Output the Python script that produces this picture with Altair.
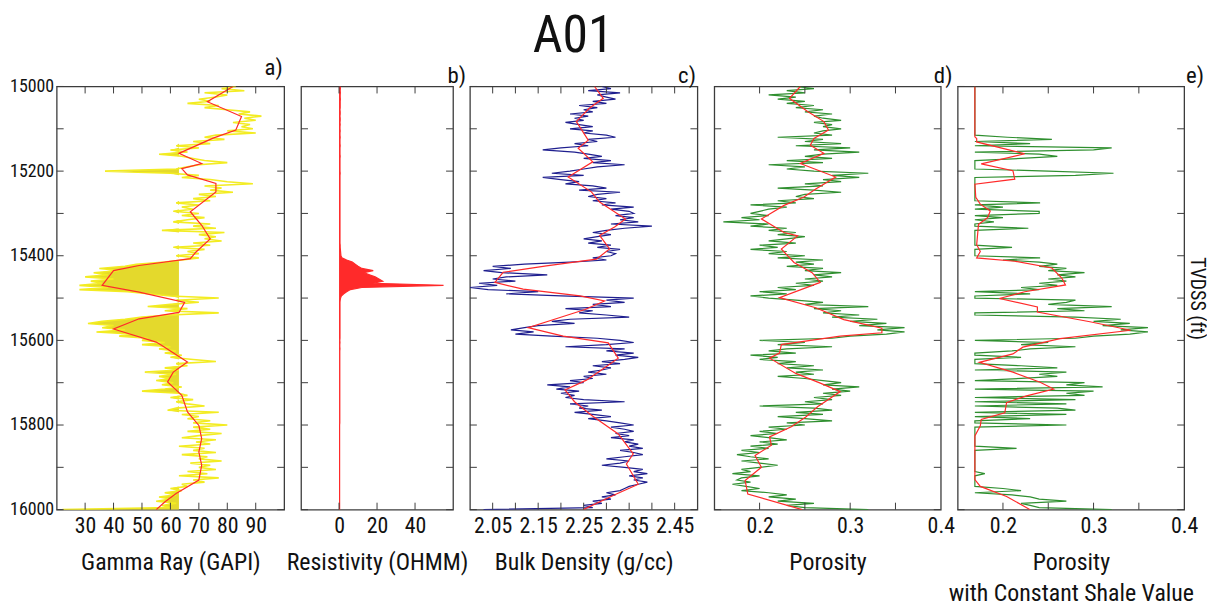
import altair as alt
import pandas as pd

# ---------------- data ----------------
DEPTH = list(range(15000, 16001, 5))
DEPTH_TICKS = list(range(15000, 16001, 100))
DEPTH_LABELS = list(range(15000, 16001, 200))

GR_RAW = [
    83, 78, 86, 72, 80, 76, 70, 74, 66, 77, 72, 80, 88, 84, 92, 86, 90, 82, 88, 85,
    89, 80, 90, 76, 72, 79, 68, 74, 62, 70, 60, 66, 56, 64, 68, 72, 80, 70, 66, 62,
    37, 60, 70, 64, 74, 80, 89, 72, 78, 74, 82, 70, 76, 68, 74, 62, 70, 64, 68, 61,
    70, 64, 72, 66, 61, 74, 68, 76, 57, 79, 70, 76, 72, 78, 68, 74, 61, 72, 66, 70,
    62, 70, 64, 58, 48, 44, 35, 42, 33, 38, 30, 40, 32, 36, 28, 38, 28, 45, 52, 60,
    77, 62, 70, 60, 52, 66, 58, 77, 60, 50, 44, 36, 31, 40, 36, 44, 34, 46, 42, 52,
    50, 58, 50, 60, 56, 62, 58, 64, 60, 68, 76, 62, 66, 58, 63, 51, 62, 56, 60, 55,
    61, 57, 64, 58, 50, 63, 66, 60, 68, 62, 66, 72, 62, 59, 77, 64, 70, 66, 74, 68,
    80, 68, 74, 66, 78, 70, 64, 76, 69, 74, 63, 72, 68, 76, 64, 73, 70, 78, 67, 74,
    70, 76, 66, 73, 63, 77, 68, 72, 64, 66, 60, 64, 58, 62, 56, 60, 55, 62, 57, 60, 22,
]
GR_SM_D = [15000, 15036, 15071, 15103, 15122, 15158, 15182, 15194, 15209, 15229,
           15249, 15296, 15328, 15360, 15391, 15407, 15423, 15435, 15470, 15486,
           15510, 15534, 15549, 15573, 15604, 15612, 15651, 15675, 15698, 15730,
           15769, 15801, 15832, 15864, 15895, 15930, 15962, 15982, 16000]
GR_SM = [82, 73, 85, 83, 75, 63, 71, 64, 66, 76,
         76, 67, 71, 74, 69, 67, 49, 40, 36, 49,
         65, 63, 49, 40, 55, 57, 66, 61, 59, 64,
         66, 70, 71, 70, 71, 70, 62, 58, 55]
GR_CUTOFF = 63

RES_RAW = [
    0.7, 0.7, 0.6, 0.7, 0.6, 0.6, 0.7, 0.6, 0.6, 0.6, 0.6, 0.5, 0.6, 0.6, 0.5, 0.6, 0.6, 0.5, 0.6, 0.5,
    0.5, 0.6, 0.5, 0.5, 0.6, 0.5, 0.5, 0.5, 0.6, 0.5, 0.5, 0.5, 0.5, 0.6, 0.5, 0.5, 0.5, 0.5, 0.5, 0.5,
    0.5, 0.6, 0.5, 0.5, 0.5, 0.5, 0.5, 0.5, 0.5, 0.5, 0.5, 0.5, 0.5, 0.5, 0.5, 0.5, 0.5, 0.5, 0.5, 0.5,
    0.5, 0.5, 0.5, 0.5, 0.5, 0.5, 0.5, 0.5, 0.5, 0.5, 0.5, 0.5, 0.5, 0.5, 0.5, 0.6, 0.6, 0.7, 0.8, 0.9,
    1.0, 1.5, 4.0, 7.0, 8.5, 10.0, 12.0, 18.0, 13.0, 16.0, 19.0, 21.0, 23.0, 18.0, 55.0, 12.0, 6.0, 4.0, 2.5, 1.2,
    0.8, 0.6, 0.5, 0.5, 0.5, 0.5, 0.5, 0.5, 0.5, 0.5, 0.5, 0.5, 0.5, 0.5, 0.5, 0.5, 0.5, 0.5, 0.5, 0.5,
    0.4, 0.5, 0.4, 0.4, 0.5, 0.4, 0.4, 0.4, 0.4, 0.4, 0.4, 0.4, 0.4, 0.4, 0.4, 0.4, 0.4, 0.4, 0.4, 0.4,
    0.4, 0.4, 0.4, 0.4, 0.4, 0.4, 0.4, 0.4, 0.4, 0.4, 0.4, 0.4, 0.4, 0.4, 0.4, 0.4, 0.4, 0.4, 0.4, 0.4,
    0.3, 0.3, 0.3, 0.3, 0.3, 0.3, 0.3, 0.3, 0.3, 0.3, 0.3, 0.3, 0.3, 0.3, 0.3, 0.3, 0.3, 0.3, 0.3, 0.3,
    0.3, 0.3, 0.3, 0.3, 0.3, 0.3, 0.3, 0.3, 0.3, 0.3, 0.3, 0.3, 0.3, 0.3, 0.3, 0.3, 0.3, 0.3, 0.3, 0.3, 0.3,
]

RHOB_RAW = [
    2.29, 2.31, 2.26, 2.33, 2.28, 2.30, 2.32, 2.27, 2.30, 2.24, 2.28, 2.25, 2.27, 2.22, 2.26, 2.23, 2.25, 2.21, 2.24, 2.27,
    2.22, 2.27, 2.25, 2.30, 2.32, 2.26, 2.28, 2.23, 2.26, 2.20, 2.16, 2.23, 2.26, 2.29, 2.25, 2.31, 2.27, 2.34, 2.28, 2.25,
    2.22, 2.18, 2.25, 2.16, 2.20, 2.24, 2.21, 2.27, 2.30, 2.24, 2.33, 2.28, 2.26, 2.30, 2.27, 2.32, 2.29, 2.36, 2.31, 2.35,
    2.36, 2.32, 2.36, 2.33, 2.37, 2.31, 2.40, 2.34, 2.30, 2.27, 2.31, 2.28, 2.25, 2.29, 2.26, 2.31, 2.28, 2.33, 2.30, 2.32,
    2.31, 2.27, 2.30, 2.22, 2.12, 2.05, 2.09, 2.03, 2.07, 2.17, 2.08, 2.05, 2.10, 2.02, 2.06, 2.00, 2.04, 2.15, 2.08, 2.20,
    2.36, 2.30, 2.34, 2.27, 2.31, 2.21, 2.27, 2.24, 2.30, 2.35, 2.22, 2.18, 2.23, 2.15, 2.12, 2.09, 2.14, 2.10, 2.18, 2.28,
    2.33, 2.36, 2.30, 2.21, 2.34, 2.30, 2.36, 2.32, 2.37, 2.34, 2.29, 2.33, 2.27, 2.31, 2.29, 2.26, 2.30, 2.25, 2.27, 2.22,
    2.25, 2.17, 2.22, 2.19, 2.24, 2.20, 2.23, 2.21, 2.25, 2.34, 2.22, 2.26, 2.24, 2.29, 2.23, 2.27, 2.31, 2.26, 2.30, 2.33,
    2.36, 2.31, 2.34, 2.36, 2.32, 2.35, 2.31, 2.36, 2.34, 2.37, 2.35, 2.38, 2.33, 2.36, 2.38, 2.34, 2.30, 2.35, 2.33, 2.29,
    2.34, 2.38, 2.36, 2.39, 2.35, 2.38, 2.36, 2.39, 2.37, 2.35, 2.34, 2.33, 2.30, 2.32, 2.29, 2.31, 2.27, 2.29, 2.25, 2.27, 2.03,
]
RHOB_SM_D = [15000, 15028, 15051, 15083, 15115, 15127, 15146, 15178, 15214, 15249,
             15273, 15313, 15332, 15352, 15384, 15408, 15424, 15439, 15463, 15479,
             15495, 15507, 15527, 15546, 15570, 15590, 15606, 15642, 15670, 15694,
             15717, 15745, 15777, 15821, 15868, 15892, 15940, 15963, 16000]
RHOB_SM = [2.274, 2.293, 2.263, 2.234, 2.253, 2.26, 2.238, 2.27, 2.216, 2.267,
           2.285, 2.342, 2.318, 2.285, 2.307, 2.278, 2.168, 2.073, 2.055, 2.117,
           2.242, 2.296, 2.253, 2.198, 2.128, 2.205, 2.304, 2.326, 2.289, 2.256,
           2.209, 2.23, 2.267, 2.326, 2.359, 2.344, 2.37, 2.322, 2.249]

PHI_RAW = [
    0.24, 0.26, 0.23, 0.25, 0.21, 0.24, 0.22, 0.25, 0.23, 0.26, 0.24, 0.27, 0.25, 0.28, 0.26, 0.27, 0.29, 0.26, 0.28, 0.27,
    0.29, 0.27, 0.26, 0.28, 0.22, 0.27, 0.25, 0.29, 0.24, 0.30, 0.26, 0.31, 0.27, 0.25, 0.28, 0.23, 0.27, 0.21, 0.25, 0.23,
    0.26, 0.32, 0.28, 0.31, 0.27, 0.29, 0.25, 0.27, 0.22, 0.26, 0.29, 0.25, 0.24, 0.26, 0.22, 0.24, 0.19, 0.23, 0.21, 0.20,
    0.19, 0.21, 0.18, 0.20, 0.16, 0.21, 0.19, 0.23, 0.21, 0.24, 0.22, 0.25, 0.23, 0.21, 0.24, 0.20, 0.22, 0.19, 0.23, 0.21,
    0.25, 0.22, 0.27, 0.24, 0.26, 0.23, 0.27, 0.25, 0.29, 0.26, 0.28, 0.25, 0.27, 0.24, 0.26, 0.22, 0.24, 0.20, 0.23, 0.19,
    0.21, 0.24, 0.27, 0.25, 0.32, 0.26, 0.29, 0.27, 0.31, 0.28, 0.33, 0.30, 0.34, 0.31, 0.36, 0.33, 0.36, 0.34, 0.30, 0.28,
    0.20, 0.25, 0.22, 0.28, 0.23, 0.21, 0.24, 0.19, 0.22, 0.20, 0.24, 0.22, 0.26, 0.23, 0.27, 0.24, 0.26, 0.22, 0.25, 0.27,
    0.29, 0.27, 0.31, 0.28, 0.30, 0.27, 0.29, 0.26, 0.28, 0.25, 0.27, 0.20, 0.26, 0.28, 0.24, 0.27, 0.22, 0.25, 0.28, 0.23,
    0.25, 0.21, 0.23, 0.20, 0.22, 0.19, 0.21, 0.23, 0.20, 0.22, 0.19, 0.21, 0.18, 0.20, 0.175, 0.19, 0.21, 0.18, 0.20, 0.22,
    0.20, 0.18, 0.19, 0.17, 0.20, 0.18, 0.175, 0.19, 0.17, 0.185, 0.20, 0.18, 0.21, 0.23, 0.21, 0.24, 0.22, 0.26, 0.23, 0.25, 0.32,
]
PHI_SM_D = [15000, 15028, 15059, 15083, 15103, 15123, 15139, 15158, 15182, 15214,
            15242, 15261, 15281, 15313, 15345, 15353, 15384, 15416, 15440, 15463,
            15499, 15523, 15551, 15571, 15582, 15590, 15610, 15630, 15642, 15678,
            15701, 15721, 15757, 15781, 15804, 15828, 15848, 15872, 15900, 15931,
            15963, 16000]
PHI_SM = [0.245, 0.233, 0.253, 0.271, 0.276, 0.26, 0.256, 0.271, 0.245, 0.284,
          0.262, 0.249, 0.227, 0.202, 0.227, 0.242, 0.224, 0.238, 0.258, 0.267,
          0.222, 0.262, 0.293, 0.335, 0.335, 0.289, 0.224, 0.222, 0.211, 0.24,
          0.267, 0.289, 0.264, 0.251, 0.235, 0.211, 0.213, 0.195, 0.202, 0.184,
          0.187, 0.247]

B = 0.169  # constant shale porosity
PHIE_RAW = [
    B, B, B, B, B, B, B, B, B, B, B, B, B, B, B, B, B, B, B, B,
    B, B, B, B, 0.205, 0.254, B, 0.23, B, 0.32, 0.30, B, 0.24, 0.26, 0.22, B, B, B, B, B,
    0.25, 0.322, 0.28, B, B, B, B, B, B, B, B, B, B, B, B, 0.241, B, 0.20, B, 0.24,
    0.24, B, 0.20, B, 0.19, B, B, 0.228, B, B, B, B, B, B, B, B, 0.21, B, B, B,
    B, 0.241, 0.20, 0.24, 0.26, 0.24, 0.27, 0.25, 0.29, 0.26, 0.28, 0.25, 0.27, 0.24, 0.26, 0.22, 0.24, B, 0.23, B,
    B, 0.28, 0.27, 0.25, 0.32, 0.26, 0.29, B, B, 0.28, 0.33, 0.30, 0.34, 0.31, 0.36, 0.33, 0.36, 0.34, 0.30, 0.28,
    B, 0.25, 0.22, 0.28, 0.23, 0.21, B, B, 0.22, B, B, B, 0.22, 0.26, B, 0.27, 0.24, 0.26, 0.22, B,
    0.29, 0.27, 0.31, B, 0.30, 0.27, 0.29, B, 0.28, B, 0.27, B, 0.26, 0.28, B, 0.27, B, 0.23, B, B,
    0.27, B, B, B, B, B, B, B, B, B, B, 0.215, B, B, B, B, B, B, B, B,
    B, B, B, 0.18, B, B, B, B, B, B, 0.20, 0.22, B, 0.21, 0.23, 0.24, 0.27, 0.22, 0.23, 0.24, 0.32,
]
PHIE_SM_D = [15000, 15119, 15123, 15131, 15159, 15183, 15199, 15219, 15231, 15262,
             15278, 15294, 15310, 15326, 15374, 15390, 15405, 15413, 15429, 15453,
             15469, 15485, 15501, 15521, 15533, 15556, 15576, 15596, 15616, 15632,
             15652, 15675, 15699, 15715, 15731, 15747, 15771, 15787, 15802, 15826,
             15929, 15945, 15969, 16000]
PHIE_SM = [0.169, 0.169, 0.171, 0.171, 0.224, 0.176, 0.211, 0.213, 0.169, 0.170,
           0.175, 0.186, 0.183, 0.173, 0.171, 0.175, 0.171, 0.213, 0.254, 0.265,
           0.269, 0.224, 0.196, 0.238, 0.238, 0.296, 0.341, 0.263, 0.222, 0.211,
           0.174, 0.211, 0.241, 0.256, 0.226, 0.204, 0.202, 0.176, 0.175, 0.169,
           0.169, 0.175, 0.204, 0.23]

GR_TICKS = [30, 40, 50, 60, 70, 80, 90]
RES_TICKS = [0, 20, 40]
RHOB_TICKS = [2.05, 2.10, 2.15, 2.20, 2.25, 2.30, 2.35, 2.40, 2.45]
RHOB_LABELS = [2.05, 2.15, 2.25, 2.35, 2.45]
PHI_TICKS = [0.2, 0.25, 0.3, 0.35]
PHI_LABELS = [0.2, 0.3, 0.4]

# ---------------- style ----------------
FONT = "Liberation Sans Narrow, Roboto Condensed, Roboto, sans-serif"
H = 426
FRAME = "#3c3c3c"
RED = "#ff2a2a"
TK = 7


def make_panel(raw_d, raw_v, raw_color, sm_d, sm_v, xdom, xlabels, xfmt, xticks,
               xtitle, letter, width, yaxis, fill=None, raw_width=1.2):
    xscale = alt.Scale(domain=xdom, nice=False, zero=False)
    xaxis = alt.Axis(values=xlabels, format=xfmt, title=xtitle, ticks=False,
                     domain=False, grid=False, labelFontSize=22,
                     titleFontSize=24, labelPadding=6, titlePadding=14,
                     labelFlush=False, labelOverlap=False, labelBound=False,
                     titleLineHeight=31)
    X = alt.X("v:Q", scale=xscale, axis=xaxis)
    Y = alt.Y("depth:Q",
              scale=alt.Scale(domain=[15000, 16000], reverse=True, nice=False, zero=False),
              axis=yaxis)
    raw = pd.DataFrame({"depth": raw_d, "v": raw_v})
    layers = []
    if fill == "gr":
        layers.append(
            alt.Chart(raw).transform_calculate(f=f"min(datum.v, {GR_CUTOFF})")
            .mark_area(orient="horizontal", color="#e4d92c", clip=True)
            .encode(x=alt.X("f:Q", scale=xscale, axis=xaxis),
                    x2=alt.datum(GR_CUTOFF), y=Y))
    elif fill == "res":
        layers.append(
            alt.Chart(raw).mark_area(orient="horizontal", color=RED, clip=True)
            .encode(x=X, x2=alt.datum(0), y=Y))
    layers.append(alt.Chart(raw).mark_line(color=raw_color, strokeWidth=raw_width, clip=True)
                  .encode(x=X, y=Y, order="depth:Q"))
    if sm_d is not None:
        sm = pd.DataFrame({"depth": sm_d, "v": sm_v})
        layers.append(alt.Chart(sm).mark_line(color=RED, strokeWidth=1.2, clip=True)
                      .encode(x=X, y=Y, order="depth:Q"))
    xt = pd.DataFrame({"v": xticks})
    yt = pd.DataFrame({"depth": DEPTH_TICKS})
    layers += [
        alt.Chart(xt).mark_rule(color=FRAME, strokeWidth=1)
        .encode(x=X, y=alt.value(0), y2=alt.value(TK)),
        alt.Chart(xt).mark_rule(color=FRAME, strokeWidth=1)
        .encode(x=X, y=alt.value(H), y2=alt.value(H - TK)),
        alt.Chart(yt).mark_rule(color=FRAME, strokeWidth=1)
        .encode(y=Y, x=alt.value(0), x2=alt.value(TK)),
        alt.Chart(yt).mark_rule(color=FRAME, strokeWidth=1)
        .encode(y=Y, x=alt.value(width), x2=alt.value(width - TK)),
    ]
    return alt.layer(*layers).properties(
        width=width, height=H,
        title=alt.TitleParams(letter, anchor="end", fontSize=23, fontWeight="normal",
                              offset=-2, dx=-2))


yaxis_a = alt.Axis(values=DEPTH_LABELS, format="d", title=None, ticks=False, domain=False,
                   grid=False, labelFontSize=18, labelPadding=3, labelFlush=False)
yaxis_e = alt.Axis(orient="right", labels=False, ticks=False, domain=False, grid=False,
                   title="TVDSS (ft)", titleFontSize=20, titlePadding=2)

pa = make_panel(DEPTH, GR_RAW, "#f3ec22", GR_SM_D, GR_SM, [20, 100], GR_TICKS, "d",
                GR_TICKS, "Gamma Ray (GAPI)", "a)", 229, yaxis_a, fill="gr",
                raw_width=1.6)
pb = make_panel(DEPTH, RES_RAW, RED, None, None, [-20, 60], RES_TICKS, "d", RES_TICKS,
                "Resistivity (OHMM)", "b)", 153, None, fill="res")
pc = make_panel(DEPTH, RHOB_RAW, "#1f1f8f", RHOB_SM_D, RHOB_SM, [2.0, 2.5], RHOB_LABELS,
                ".2f", RHOB_TICKS, "Bulk Density (g/cc)", "c)", 229, None)
pd_ = make_panel(DEPTH, PHI_RAW, "#2f8f2f", PHI_SM_D, PHI_SM, [0.15, 0.4], PHI_LABELS,
                 ".1f", PHI_TICKS, "Porosity", "d)", 228, None)
pe = make_panel(DEPTH, PHIE_RAW, "#2f8f2f", PHIE_SM_D, PHIE_SM, [0.15, 0.4], PHI_LABELS,
                ".1f", PHI_TICKS, ["Porosity", "with Constant Shale Value"], "e)", 228,
                yaxis_e)

chart = (
    alt.hconcat(pa, pb, pc, pd_, pe, spacing=17, bounds="flush")
    .properties(title=alt.TitleParams("A01", fontSize=52, fontWeight="normal",
                                      anchor="middle", dx=-35, offset=-7),
                padding={"left": 0, "top": 0, "right": 0, "bottom": 0})
    .configure_view(stroke=FRAME, strokeWidth=1.3)
    .configure_axis(labelFont=FONT, titleFont=FONT, labelColor="#111",
                    titleColor="#111", titleFontWeight="normal")
    .configure_title(font=FONT, color="#111")
)

chart.save("out.html", embed_options={"renderer": "svg", "actions": False})
